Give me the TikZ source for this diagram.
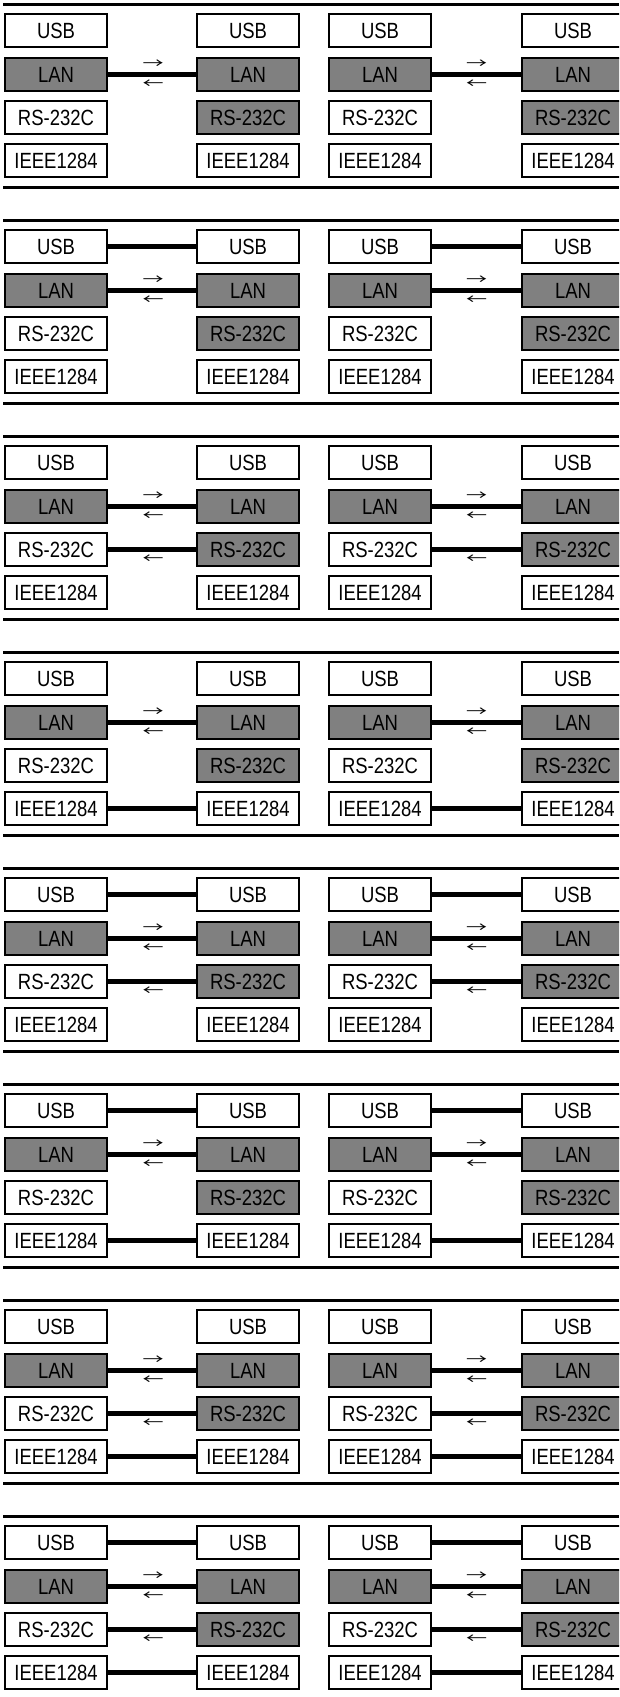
\documentclass[tikz,border=0pt]{standalone}
\usepackage{fontspec}
\setmainfont[FakeStretch=0.84]{Liberation Sans}
\newfontfamily\arrfont[FakeStretch=1.5]{Noto Sans CJK JP}
\tikzset{
  ibox/.style={draw, line width=2pt, minimum width=102pt, minimum height=33pt,
    inner sep=0pt, fill=white, font=\fontsize{22}{22}\selectfont},
  gbox/.style={ibox, fill=black!50},
  bar/.style={line width=3.5pt},
  link/.style={line width=5pt},
  arr/.style={inner sep=0pt, font=\arrfont\fontsize{14}{14}\selectfont},
}
\begin{document}
\begin{tikzpicture}[x=1pt,y=-1pt]
\path[use as bounding box] (0,0) rectangle (619,1697);
\clip (0,0) rectangle (619,1697);
\foreach \k/\hasU/\hasR/\hasI in {0/0/0/0,1/1/0/0,2/0/1/0,3/0/0/1,4/1/1/0,5/1/0/1,6/0/1/1,7/1/1/1}{
  \pgfmathsetmacro\oy{216*\k}
  \coordinate (tl\k) at (3,\oy+4.5);
  \coordinate (tr\k) at (619,\oy+4.5);
  \coordinate (bl\k) at (3,\oy+187.5);
  \coordinate (br\k) at (619,\oy+187.5);
  \draw[bar] (tl\k) -- (tr\k);
  \draw[bar] (bl\k) -- (br\k);
  \foreach \c/\x/\rs in {1/56/ibox,2/248/gbox,3/380/ibox,4/573/gbox}{
    \node[ibox] (U\k-\c) at (\x,\oy+30.5) {USB};
    \node[gbox] (L\k-\c) at (\x,\oy+74.5) {LAN};
    \node[\rs]  (R\k-\c) at (\x,\oy+117.5) {RS-232C};
    \node[ibox] (I\k-\c) at (\x,\oy+160.5) {IEEE1284};
  }
  \foreach \a/\b/\m in {1/2/153,3/4/476.5}{
    \draw[link] (L\k-\a) -- (L\k-\b);
    \node[arr] (ra\k-\a) at (\m,\oy+64.5) {→};
    \node[arr] (la\k-\a) at (\m,\oy+84) {←};
    \ifnum\hasU=1 \draw[link] (U\k-\a) -- (U\k-\b); \fi
    \ifnum\hasR=1 \draw[link] (R\k-\a) -- (R\k-\b);
      \node[arr] (rl\k-\a) at (\m,\oy+127.5) {←}; \fi
    \ifnum\hasI=1 \draw[link] (I\k-\a) -- (I\k-\b); \fi
  }
}
\end{tikzpicture}
\end{document}
